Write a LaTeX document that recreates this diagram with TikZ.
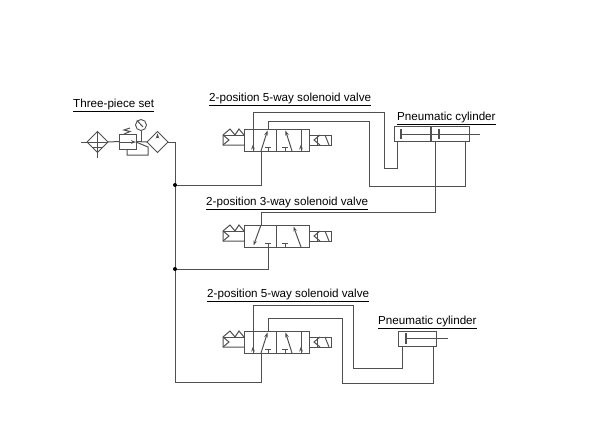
\documentclass[tikz,border=0pt]{standalone}
\usepackage{fontspec}
\setmainfont{Liberation Sans}
\usetikzlibrary{arrows.meta,shapes.geometric}
\definecolor{pipegray}{HTML}{505050}
\tikzset{
  pipe/.style={draw=pipegray, line width=1pt},
  valvebox/.style={draw=pipegray, line width=0.9pt, minimum width=32.5pt, minimum height=22pt, inner sep=0pt, outer sep=0pt},
  cylbox/.style={draw=pipegray, line width=0.9pt, inner sep=0pt, outer sep=0pt},
  unitdiamond/.style={draw=pipegray, line width=0.9pt, diamond, aspect=1, minimum size=21pt, inner sep=0pt, outer sep=0pt},
  title/.style={anchor=base west, inner sep=0pt, font=\fontsize{11.65}{13}\selectfont},
  flowtip/.style={-{Stealth[length=5pt,width=3.6pt]}, pipe},
  soleft/.pic={
    \draw[pipe] (21,6) -- (16,0) -- (12,6) -- (7,0) -- (0,6) -- (0,16) -- (21,16);
    \draw[pipe] (0,6) -- (21,6);
    \draw[pipe] (0,6) -- (6,11) -- (0,16);
  },
  soright/.pic={
    \draw[pipe] (0,6) rectangle (22,16);
    \draw[pipe] (11,6) -- (5,11) -- (11,16);
    \draw[pipe] (8,6) -- (8,16);
    \draw[pipe] (16,6) -- (20,16);
  },
  exhaust/.pic={
    \draw[pipe] (0,0) -- (0,-4);
    \draw[pipe] (-3,-4) -- (3,-4);
  },
}
\begin{document}
\begin{tikzpicture}[x=1pt, y=-1pt]
  \useasboundingbox[fill=white] (0,0) rectangle (610,440);

  % titles
  \node[title] (tset) at (73,107) {\underline{Three-piece set}};
  \node[title] (tv1) at (209,101) {\underline{2-position 5-way solenoid valve}};
  \node[title] (tc1) at (397,120) {\underline{Pneumatic cylinder}};
  \node[title] (tv2) at (206,205) {\underline{2-position 3-way solenoid valve}};
  \node[title] (tv3) at (207,297) {\underline{2-position 5-way solenoid valve}};
  \node[title] (tc3) at (378,324) {\underline{Pneumatic cylinder}};

  % three-piece set
  \node[unitdiamond] (filt) at (97.5,142) {};
  \node[unitdiamond] (lube) at (157.5,142) {};
  \node[cylbox, minimum width=17pt, minimum height=15pt] (reg) at (127.5,141.5) {};
  \node[draw=pipegray, line width=0.9pt, circle, minimum size=11pt, inner sep=0pt, outer sep=0pt] (gauge) at (141,125) {};
  \coordinate (sin) at (81,142);
  \draw[pipe] (sin) -- (filt.west);
  \draw[pipe] (filt.east) -- (reg.west);
  \draw[pipe] (reg.east) -- (lube.west);
  \draw[pipe] (filt.west) -- (filt.east);
  \draw[pipe] (filt.north) -- (97.5,158);
  \draw[pipe] (92,147.5) -- (103,147.5);
  \draw[flowtip] (119,142) -- (136,142);
  \draw[pipe] (gauge.south) -- (141,142);
  \draw[pipe] (137,120.5) -- (143,127);
  \draw[pipe] (124,134) -- (130,131.5) -- (124,130) -- (130,128);
  \draw[pipe] (127,149) -- (127,155) -- (148,155) -- (148,147) -- (136,142);
  \draw[flowtip] (157.5,138) -- (157.5,133.5);

  % valve 1
  \node[valvebox] (v1a) at (260.5,140) {};
  \node[valvebox] (v1b) at (293,140) {};
  \pic at (223,129) {soleft};
  \pic at (309,129) {soright};
  \coordinate (v1p) at (253,129);
  \coordinate (v1q) at (268,129);
  \coordinate (v1r) at (261,151);
  \draw[flowtip] (253,151) -- (253,144.5);
  \draw[pipe] (253,129) -- (253,151);
  \draw[flowtip] (261,151) -- (267.5,130.5);
  \draw[flowtip] (292,151) -- (285.5,130.5);
  \draw[flowtip] (301,151) -- (301,144.5);
  \draw[pipe] (301,129) -- (301,151);
  \pic at (268,151) {exhaust};
  \pic at (285,151) {exhaust};

  % valve 2
  \node[valvebox] (v2a) at (260.5,236) {};
  \node[valvebox] (v2b) at (293,236) {};
  \pic at (223,225) {soleft};
  \pic at (309,225) {soright};
  \coordinate (v2p) at (261,225);
  \coordinate (v2r) at (268,247);
  \draw[flowtip] (261,225) -- (253.5,245.5);
  \draw[flowtip] (301,247) -- (293.5,226.5);
  \pic at (268,247) {exhaust};
  \pic at (285,247) {exhaust};

  % valve 3
  \node[valvebox] (v3a) at (260.5,342) {};
  \node[valvebox] (v3b) at (293,342) {};
  \pic at (223,331) {soleft};
  \pic at (309,331) {soright};
  \coordinate (v3p) at (253,331);
  \coordinate (v3q) at (268,331);
  \coordinate (v3r) at (261,353);
  \draw[flowtip] (253,353) -- (253,346.5);
  \draw[pipe] (253,331) -- (253,353);
  \draw[flowtip] (261,353) -- (267.5,332.5);
  \draw[flowtip] (292,353) -- (285.5,332.5);
  \draw[flowtip] (301,353) -- (301,346.5);
  \draw[pipe] (301,331) -- (301,353);
  \pic at (268,353) {exhaust};
  \pic at (285,353) {exhaust};

  % cylinder 1
  \node[cylbox, minimum width=75pt, minimum height=15pt] (cyl1) at (431.5,133.5) {};
  \coordinate (c1a) at (397,141);
  \coordinate (c1b) at (465,141);
  \coordinate (c1c) at (435,141);
  \coordinate (c1rod) at (480,134);
  \draw[pipe, line width=1.3pt] (431,126) -- (431,141);
  \draw[pipe, line width=1.2pt] (401,129) -- (401,139);
  \draw[pipe, line width=1.2pt] (439,129) -- (439,139);
  \draw[pipe] (401,134) -- (c1rod);

  % cylinder 3
  \node[cylbox, minimum width=38pt, minimum height=15pt] (cyl3) at (417,338.5) {};
  \coordinate (c3a) at (402,346);
  \coordinate (c3b) at (433,346);
  \coordinate (c3rod) at (448,338);
  \draw[pipe, line width=1.2pt] (406,333) -- (406,344);
  \draw[pipe] (406,338) -- (c3rod);

  % air lines
  \coordinate (jt1) at (175,185);
  \coordinate (jt2) at (175,269);
  \draw[pipe] (lube.east) -- (175,142) -- (175,382) -- (261,382) -- (v3r);
  \draw[pipe] (jt1) -| (v1r);
  \draw[pipe] (jt2) -| (v2r);
  \fill[black] (jt1) circle (2pt);
  \fill[black] (jt2) circle (2pt);
  \draw[pipe] (v1p) -- (253,112) -- (384,112) -- (384,168) -- (397,168) -- (c1a);
  \draw[pipe] (v1q) -- (268,121) -- (369,121) -- (369,186) -- (465,186) -- (c1b);
  \draw[pipe] (c1c) -- (435,212) -- (261,212) -- (v2p);
  \draw[pipe] (v3p) -- (253,305) -- (353,305) -- (353,368) -- (402,368) -- (c3a);
  \draw[pipe] (v3q) -- (268,318) -- (342,318) -- (342,383) -- (433,383) -- (c3b);
\end{tikzpicture}
\end{document}
